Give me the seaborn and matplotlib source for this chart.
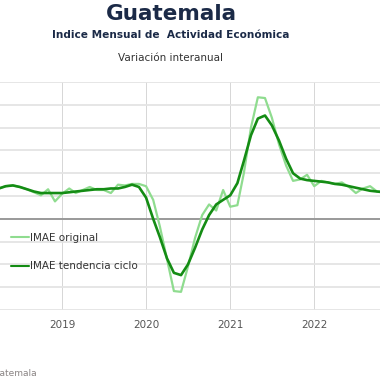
import pandas as pd
import matplotlib
matplotlib.use('Agg')
import matplotlib.pyplot as plt
import matplotlib.dates as mdates
import seaborn as sns

# monthly IMAE, variacion interanual (%), Mar 2018 - Nov 2022
start_month = '2018-03-01'
imae_original = [3.8, 4.0, 4.3, 4.4, 4.2, 3.9, 3.5, 3.1, 3.9, 2.3,
                 3.3, 4.0, 3.4, 3.8, 4.2, 3.8, 3.8, 3.4, 4.5, 4.4,
                 4.6, 4.6, 4.3, 2.5, -1.0, -5.3, -9.5, -9.6, -6.3, -2.5,
                 0.5, 1.9, 1.1, 3.8, 1.6, 1.8, 6.0, 12.0, 16.0, 15.9,
                 13.3, 9.8, 7.0, 5.0, 5.2, 5.8, 4.3, 5.0, 4.8, 4.6,
                 4.8, 4.2, 3.4, 4.0, 4.3, 3.6, 3.6]
imae_tendencia = [3.8, 4.0, 4.3, 4.4, 4.2, 3.9, 3.6, 3.4, 3.4, 3.4,
                  3.4, 3.5, 3.6, 3.7, 3.8, 3.9, 3.9, 4.0, 4.0, 4.2,
                  4.5, 4.2, 2.8, 0.0, -2.4, -5.2, -7.1, -7.4, -6.0, -3.8,
                  -1.4, 0.5, 1.9, 2.5, 3.1, 4.7, 7.6, 11.0, 13.2, 13.6,
                  12.3, 10.3, 7.9, 6.0, 5.3, 5.1, 5.0, 4.9, 4.8, 4.6,
                  4.5, 4.3, 4.1, 3.9, 3.7, 3.6, 3.5]
series_names = ['IMAE original', 'IMAE tendencia ciclo']
series_colors = ['#8fdc8f', '#148c14']

fechas = pd.date_range(start_month, periods=len(imae_original), freq='MS')
df = pd.DataFrame({'fecha': fechas,
                   series_names[0]: imae_original,
                   series_names[1]: imae_tendencia})
df = df.melt(id_vars='fecha', var_name='serie', value_name='valor')

sns.set_style('white')
plt.rcParams['font.family'] = ['DejaVu Sans']

fig = plt.figure(figsize=(3.8, 3.8), dpi=100)
ax = fig.add_axes([0, 0.184, 1, 0.6])

ax.axhline(0, color='#8c8c8c', lw=1.2, zorder=1)
sns.lineplot(data=df, x='fecha', y='valor', hue='serie', palette=series_colors,
             hue_order=series_names, ax=ax, zorder=3)
for line, lw in zip(ax.get_lines()[1:], [1.6, 1.9]):
    line.set_linewidth(lw)

ax.set_xlim(pd.Timestamp('2018-04-06'), pd.Timestamp('2022-10-14'))
ax.set_ylim(-12, 18)
ax.set_yticks(range(-12, 19, 3))
ax.set_yticklabels([])
ax.xaxis.set_major_locator(mdates.YearLocator())
ax.xaxis.set_major_formatter(mdates.DateFormatter('%Y'))
ax.grid(axis='y', color='#e4e4e4', lw=1.3, zorder=0)
ax.grid(axis='x', color='#d6d6d6', lw=0.7, zorder=0)
ax.tick_params(axis='both', length=0)
ax.tick_params(axis='x', pad=7, labelsize=7.5, labelcolor='#555555')
ax.set_xlabel('')
ax.set_ylabel('')
for s in ax.spines.values():
    s.set_visible(False)

ax.legend(loc='upper left', bbox_to_anchor=(0.03, 0.34), frameon=False,
          fontsize=7.5, labelspacing=1.8, handlelength=1.7, handletextpad=0.05,
          labelcolor='#333333', borderaxespad=0, borderpad=0)

fig.text(0.45, 0.963, 'Guatemala', ha='center', va='center',
         fontsize=15.5, fontweight='bold', color='#1b2a47')
fig.text(0.45, 0.908, 'Indice Mensual de  Actividad Económica', ha='center',
         va='center', fontsize=7.6, fontweight='bold', color='#1b2a47')
fig.text(0.45, 0.847, 'Variación interanual', ha='center', va='center',
         fontsize=7.5, color='#333333')
fig.text(0.097, 0.018, 'Fuente: Banco de Guatemala', ha='right', va='center',
         fontsize=6.5, color='#8a8484')

fig.savefig('out.png', dpi=100)
